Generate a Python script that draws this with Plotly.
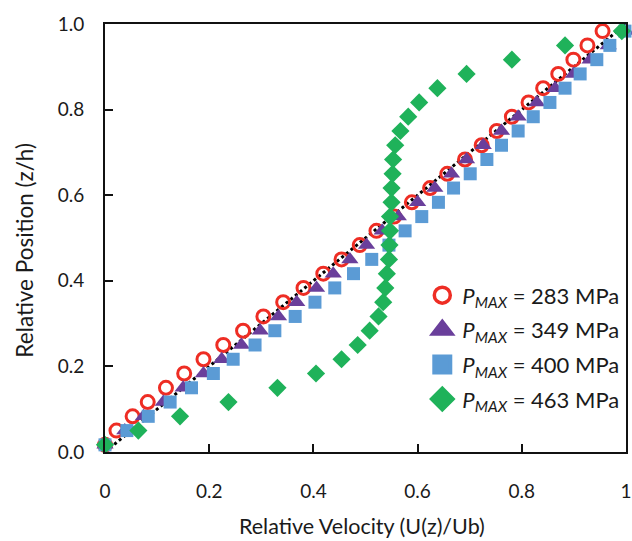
import plotly.graph_objects as go

z = [0.0167 + k / 30 for k in range(30)]

u_283 = [0.000, 0.022, 0.053, 0.082, 0.117, 0.152, 0.189, 0.227, 0.265, 0.304,
         0.342, 0.381, 0.419, 0.454, 0.489, 0.521, 0.555, 0.589, 0.624, 0.657,
         0.691, 0.723, 0.752, 0.781, 0.813, 0.841, 0.870, 0.899, 0.926, 0.955]
u_349 = [0.000, 0.038, 0.074, 0.112, 0.150, 0.189, 0.224, 0.262, 0.298, 0.333,
         0.368, 0.406, 0.438, 0.470, 0.502, 0.532, 0.563, 0.600, 0.633, 0.665,
         0.694, 0.726, 0.761, 0.793, 0.829, 0.864, 0.899, 0.931, 0.966, 1.000]
u_400 = [0.000, 0.042, 0.083, 0.125, 0.166, 0.208, 0.246, 0.288, 0.326, 0.365,
         0.403, 0.441, 0.477, 0.512, 0.545, 0.576, 0.608, 0.640, 0.669, 0.701,
         0.733, 0.761, 0.793, 0.822, 0.854, 0.883, 0.912, 0.944, 0.969, 0.998]
u_463 = [0.000, 0.064, 0.144, 0.237, 0.331, 0.405, 0.454, 0.485, 0.508, 0.525,
         0.534, 0.538, 0.541, 0.545, 0.546, 0.547, 0.547, 0.550, 0.550, 0.552,
         0.553, 0.557, 0.567, 0.582, 0.603, 0.638, 0.694, 0.781, 0.883, 0.992]

ref_x = [0, 1]
ref_y = [0, 1]

names = ["<i>P<sub>MAX</sub></i> = 283 MPa", "<i>P<sub>MAX</sub></i> = 349 MPa",
         "<i>P<sub>MAX</sub></i> = 400 MPa", "<i>P<sub>MAX</sub></i> = 463 MPa"]

x_ticks = [0, 0.2, 0.4, 0.6, 0.8, 1]
x_tick_text = ["0", "0.2", "0.4", "0.6", "0.8", "1"]
y_ticks = [0, 0.2, 0.4, 0.6, 0.8, 1.0]
y_tick_text = ["0.0", "0.2", "0.4", "0.6", "0.8", "1.0"]

x_title = "Relative Velocity (U(z)/Ub)"
y_title = "Relative Position (z/h)"

FONT = "Lato"
TXT = "#1a1a1a"
RED, PURPLE, BLUE, GREEN = "#EE2D24", "#6A3F9B", "#5B9BD5", "#1FB25A"

fig = go.Figure()

fig.add_trace(go.Scatter(x=ref_x, y=ref_y, mode="lines",
                         line=dict(color="black", width=3, dash="dot"),
                         showlegend=False, hoverinfo="skip"))

series = [
    (u_283, dict(symbol="circle-open", size=13, color=RED, line=dict(width=3, color=RED)),
     dict(symbol="circle-open", size=16, color=RED, line=dict(width=3.5, color=RED))),
    (u_349, dict(symbol="triangle-up", size=15, color=PURPLE, line=dict(width=0)),
     dict(symbol="triangle-up", size=16, color=PURPLE, line=dict(width=4, color=PURPLE))),
    (u_400, dict(symbol="square", size=13, color=BLUE, line=dict(width=0)),
     dict(symbol="square", size=16, color=BLUE, line=dict(width=4, color=BLUE))),
    (u_463, dict(symbol="diamond", size=14, color=GREEN, line=dict(width=0)),
     dict(symbol="diamond", size=16, color=GREEN, line=dict(width=4, color=GREEN))),
]

for i, (xs, mk, _) in enumerate(series):
    fig.add_trace(go.Scatter(x=xs, y=z, mode="markers", name=names[i], marker=mk,
                             showlegend=False, cliponaxis=False))

# legend-only entries (larger symbols, as in the reference legend)
for i, (_, _, lmk) in enumerate(series):
    fig.add_trace(go.Scatter(x=[None], y=[None], mode="markers", name=names[i],
                             marker=lmk, legendgroup=f"g{i}", showlegend=True))

fig.update_layout(
    width=632, height=541,
    margin=dict(l=105, r=6, t=24, b=89),
    paper_bgcolor="white", plot_bgcolor="white",
    font=dict(family=FONT, size=19, color=TXT),
    legend=dict(x=0.609, y=0.415, xanchor="left", yanchor="top",
                font=dict(family=FONT, size=22, color=TXT),
                bgcolor="rgba(0,0,0,0)", tracegroupgap=3, itemsizing="trace"),
    xaxis=dict(range=[0, 1], tickvals=x_ticks, ticktext=x_tick_text,
               showgrid=False, zeroline=False, showline=True, linecolor="#111",
               linewidth=2, mirror=True, ticks="inside", ticklen=8, tickwidth=2,
               tickcolor="#111", ticklabelstandoff=21, automargin=False),
    yaxis=dict(range=[0, 1], tickvals=y_ticks, ticktext=y_tick_text,
               showgrid=False, zeroline=False, showline=True, linecolor="#111",
               linewidth=2, mirror=True, ticks="inside", ticklen=8, tickwidth=2,
               tickcolor="#111", ticklabelstandoff=15, automargin=False),
    annotations=[
        dict(text=x_title, xref="paper", yref="paper", x=0.494, y=-0.1737,
             xanchor="center", yanchor="middle", showarrow=False,
             font=dict(family=FONT, size=21.5, color=TXT)),
        dict(text=y_title, xref="paper", yref="paper", x=-0.155, y=0.471,
             xanchor="center", yanchor="middle", textangle=-90, showarrow=False,
             font=dict(family=FONT, size=22.5, color=TXT)),
    ],
)

fig.write_html("out.html", config={"displayModeBar": False},
               post_script="document.body.style.margin='0';document.body.style.overflow='hidden';")
